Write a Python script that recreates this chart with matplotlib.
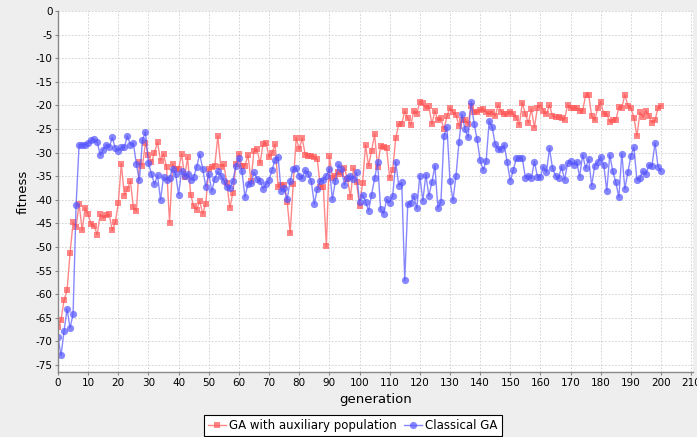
import matplotlib
matplotlib.use("Agg")
from matplotlib import pyplot as plt

plt.rcParams['font.family'] = ['DejaVu Sans']
plt.rcParams['axes.unicode_minus'] = False

generation = list(range(0, 201))

# GA with auxiliary population
ga_aux = [
    -67, -65.4, -61.3, -59.2, -51.3, -44.8, -45.8, -40.8, -46.5, -41.7,
    -43.1, -45.2, -45.5, -47.4, -43.1, -43.8, -43.3, -43.1, -46.5, -44.8,
    -40.7, -32.4, -39.1, -37.7, -36, -41.6, -42.4, -32.1, -32.8, -28,
    -30.6, -32.1, -30, -27.8, -31.7, -30.3, -33.1, -44.9, -32.4, -33.5,
    -33.5, -30.3, -35.1, -31, -38.9, -41.4, -42.1, -40.3, -43, -40.8,
    -33.5, -33.1, -32.8, -26.5, -33, -32.5, -36.5, -41.7, -38.5, -32.5,
    -30.2, -32.8, -32.8, -30.5, -36, -29.6, -29.3, -32.3, -28.2, -27.9,
    -31, -30, -28.2, -37.4, -36.8, -36.8, -40.4, -47.1, -36.7, -26.9,
    -29.3, -27, -30.5, -30.7, -30.7, -30.9, -31.4, -37.4, -37.2, -49.9,
    -30.7, -35.3, -34.9, -34.2, -34.6, -33.3, -35.6, -39.4, -33.3, -36.3,
    -41.3, -36.5, -28.4, -32.8, -29.6, -26.1, -33, -28.6, -28.9, -29.1,
    -35.4, -33.7, -27, -24, -24, -21.2, -22.7, -24.2, -21.2, -21.8,
    -19.2, -19.6, -20.6, -20.1, -24, -21.2, -23.2, -22.7, -25.1, -22.3,
    -20.5, -21.5, -22, -24.4, -23.2, -23, -24, -20.1, -21.5, -21.5,
    -21, -20.8, -21.5, -21.9, -21.3, -22.3, -19.9, -21.3, -21.9, -21.8,
    -21.3, -21.8, -22.6, -24.2, -19.4, -21.9, -23.7, -20.8, -24.7, -20.5,
    -19.9, -21.2, -21.9, -19.9, -22.3, -22.5, -22.5, -22.7, -23, -19.9,
    -20.6, -20.6, -20.5, -21.1, -21.2, -17.8, -17.7, -22.3, -23.2, -20.6,
    -19.2, -21.9, -21.8, -23.5, -23, -23.2, -20.4, -20.5, -17.7, -20.1,
    -20.5, -22.6, -26.5, -21.5, -22.5, -21.1, -22.3, -23.7, -23.2, -20.5,
    -20.1,
]

# Classical GA
classical = [
    -69.1, -73, -67.9, -63.1, -67.2, -64.2, -41.1, -28.3, -28.3, -28.3,
    -28, -27.4, -27.2, -27.7, -30.6, -29.4, -28.3, -28.9, -26.8, -29.1,
    -29.6, -28.9, -28.9, -26.5, -28.3, -28, -32.5, -35.9, -27.4, -25.6,
    -32.3, -34.5, -36.7, -34.8, -40, -35.2, -35.8, -35.3, -33.5, -34.5,
    -38.9, -33.8, -35, -34.5, -35.8, -35.2, -33, -30.3, -33.5, -37.2,
    -34.5, -38.2, -35.5, -34, -34.9, -36, -37.3, -37.5, -36, -32.8,
    -31.2, -33.9, -39.4, -36.7, -36.5, -34.2, -35.5, -36, -37.7, -36.7,
    -35.8, -33.7, -31.5, -30.9, -38.2, -37.5, -39.9, -36, -33.5, -33.3,
    -34.9, -35.4, -33.7, -34.6, -36.1, -40.9, -37.7, -36, -35.8, -34.9,
    -33.5, -39.9, -36, -32.5, -33.5, -36.8, -35.4, -34.9, -35.6, -34.2,
    -40.4, -38.9, -40.4, -42.3, -38.9, -35.4, -32.1, -42, -43, -39.9,
    -40.6, -39.2, -31.9, -37, -36.3, -57.1, -40.8, -40.6, -39.2, -41.8,
    -34.9, -40.2, -34.7, -39.2, -36.3, -32.8, -41.8, -40.4, -26.5, -24.6,
    -36, -40.1, -34.9, -27.7, -21.9, -25.1, -26.8, -19.2, -23.9, -27.2,
    -31.6, -33.7, -31.8, -23.3, -24.6, -28.2, -29.3, -29.3, -28.4, -32.1,
    -36, -33.7, -31.2, -31.2, -31.2, -35.3, -34.9, -35.4, -31.9, -35.1,
    -35.1, -33, -34.2, -29.1, -33.3, -34.9, -35.4, -33, -35.8, -32.3,
    -31.8, -32.6, -31.9, -35.1, -30.5, -33.3, -31.4, -37, -32.8, -32.1,
    -30.9, -32.6, -38.1, -30.5, -34, -36.3, -39.5, -30.2, -37.7, -34.2,
    -30.7, -28.9, -35.8, -35.4, -33.9, -34.6, -32.6, -32.8, -27.9, -33,
    -34,
]

red = "#FF5555"
blue = "#5555FF"

fig = plt.figure(figsize=(6.97, 4.37), dpi=100, facecolor="#EEEEEE")
ax = fig.add_axes([58 / 697, 1 - 372 / 437, 635 / 697, 361 / 437])
ax.set_facecolor("white")

ax.plot(generation, ga_aux, color=red, lw=1, alpha=0.7,
        marker="s", ms=4.8, mfc=red, mec=red, mew=0,
        label="GA with auxiliary population")
ax.plot(generation, classical, color=blue, lw=1, alpha=0.7,
        marker="o", ms=5.2, mfc=blue, mec=blue, mew=0,
        label="Classical GA")

ax.set_xlim(0, 210.6)
ax.set_ylim(-76.5, 0)
ax.set_xticks(range(0, 211, 10))
ax.set_yticks(range(-75, 1, 5))
ax.grid(True, color="#CCCCCC", lw=0.6, ls=(0, (2, 2)))
ax.tick_params(labelsize=7.5, length=2, color="#888888", pad=2)

for s in ["top", "right"]:
    ax.spines[s].set_visible(False)
for s in ["left", "bottom"]:
    ax.spines[s].set_color("#888888")
    ax.spines[s].set_linewidth(1)

ax.set_xlabel("generation", fontsize=9.5, labelpad=4)
ax.set_ylabel("fitness", fontsize=9.5, labelpad=4)

leg = fig.legend(loc="lower center", bbox_to_anchor=(0.506, 0.0), ncol=2,
                 fontsize=8.5, frameon=True, fancybox=False,
                 edgecolor="black", framealpha=1, handlelength=1.5,
                 handletextpad=0.3, columnspacing=0.6, borderpad=0.35,
                 borderaxespad=0.1)
leg.get_frame().set_linewidth(0.8)

plt.savefig("out.png", dpi=100, facecolor=fig.get_facecolor())
